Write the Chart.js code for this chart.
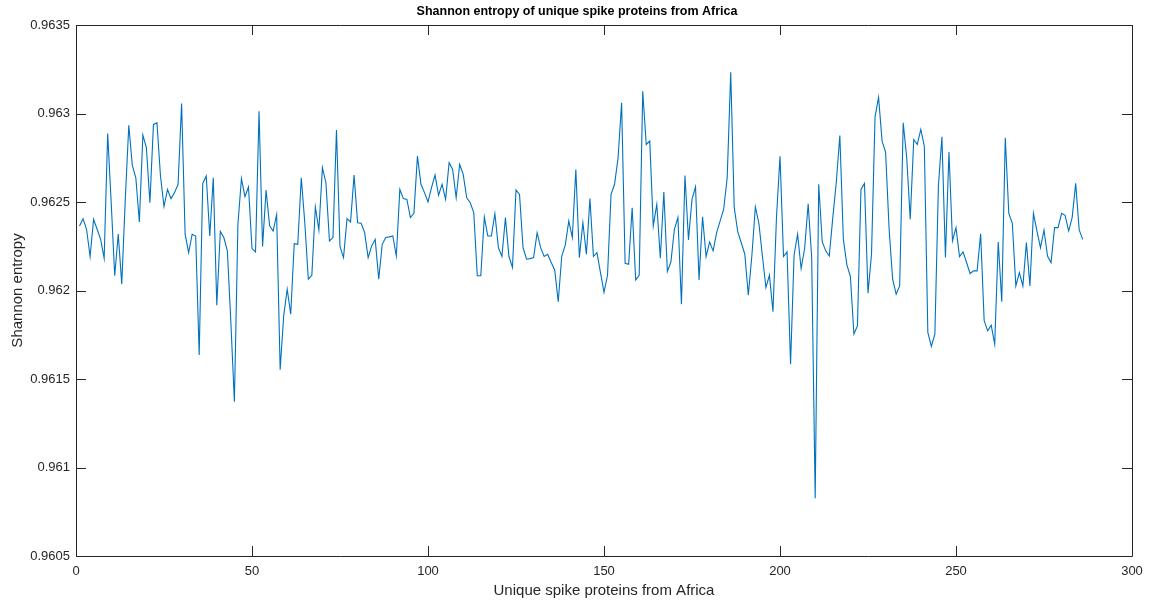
<!DOCTYPE html>
<html>
<head>
<meta charset="utf-8">
<script src="https://cdn.jsdelivr.net/npm/chart.js@4"></script>
<style>
  html, body { margin: 0; padding: 0; background: #fff; }
  #wrap { width: 1153px; height: 607px; }
</style>
</head>
<body>
<div id="wrap"><canvas id="entropyChart" width="1153" height="607"></canvas></div>
<script>
// Shannon entropy per unique spike protein (Africa), proteins numbered from 1
const entropy = [
  0.962365, 0.962406, 0.962346, 0.962192, 0.962402, 0.962346, 0.962289, 0.962182, 0.962887, 0.962496,
  0.962083, 0.962319, 0.962036, 0.962515, 0.962934, 0.962707, 0.962637, 0.962387, 0.962878, 0.962806,
  0.962496, 0.962938, 0.962947, 0.962647, 0.962474, 0.962571, 0.962519, 0.962553, 0.962600, 0.963056,
  0.962318, 0.962214, 0.962318, 0.962308, 0.961635, 0.962605, 0.962647, 0.962308, 0.962637, 0.961917,
  0.962334, 0.962299, 0.962224, 0.961819, 0.961372, 0.962374, 0.962632, 0.962530, 0.962585, 0.962237,
  0.962218, 0.963013, 0.962248, 0.962568, 0.962365, 0.962336, 0.962428, 0.961552, 0.961857, 0.962007,
  0.961866, 0.962265, 0.962261, 0.962637, 0.962383, 0.962064, 0.962086, 0.962472, 0.962342, 0.962694,
  0.962609, 0.962280, 0.962299, 0.962906, 0.962248, 0.962186, 0.962406, 0.962387, 0.962652, 0.962383,
  0.962380, 0.962327, 0.962186, 0.962252, 0.962289, 0.962064, 0.962261, 0.962299, 0.962303, 0.962308,
  0.962195, 0.962571, 0.962519, 0.962515, 0.962412, 0.962436, 0.962759, 0.962600, 0.962553, 0.962500,
  0.962581, 0.962652, 0.962538, 0.962600, 0.962515, 0.962722, 0.962684, 0.962524, 0.962712, 0.962656,
  0.962524, 0.962496, 0.962440, 0.962083, 0.962083, 0.962415, 0.962308, 0.962308, 0.962434, 0.962242,
  0.962192, 0.962412, 0.962192, 0.962130, 0.962568, 0.962543, 0.962242, 0.962177, 0.962180, 0.962186,
  0.962327, 0.962242, 0.962192, 0.962205, 0.962158, 0.962116, 0.961936, 0.962195, 0.962256, 0.962393,
  0.962299, 0.962684, 0.962186, 0.962383, 0.962205, 0.962519, 0.962192, 0.962214, 0.962101, 0.961989,
  0.962086, 0.962543, 0.962600, 0.962750, 0.963060, 0.962154, 0.962148, 0.962468, 0.962060, 0.962086,
  0.963126, 0.962825, 0.962844, 0.962365, 0.962487, 0.962182, 0.962556, 0.962107, 0.962161, 0.962346,
  0.962412, 0.961923, 0.962650, 0.962286, 0.962515, 0.962586, 0.962060, 0.962417, 0.962192, 0.962274,
  0.962224, 0.962327, 0.962393, 0.962459, 0.962637, 0.963233, 0.962468, 0.962331, 0.962270, 0.962205,
  0.961974, 0.962195, 0.962472, 0.962380, 0.962195, 0.962017, 0.962086, 0.961880, 0.962412, 0.962759,
  0.962192, 0.962218, 0.961584, 0.962199, 0.962318, 0.962124, 0.962237, 0.962490, 0.962186, 0.960827,
  0.962600, 0.962274, 0.962224, 0.962195, 0.962412, 0.962613, 0.962876, 0.962289, 0.962145, 0.962079,
  0.961754, 0.961800, 0.962571, 0.962605, 0.961985, 0.962205, 0.962981, 0.963092, 0.962844, 0.962782,
  0.962346, 0.962064, 0.961979, 0.962026, 0.962947, 0.962750, 0.962402, 0.962853, 0.962825, 0.962910,
  0.962816, 0.961763, 0.961684, 0.961754, 0.962590, 0.962868, 0.962186, 0.962782, 0.962280, 0.962355,
  0.962192, 0.962218, 0.962158, 0.962096, 0.962111, 0.962111, 0.962321, 0.961829, 0.961772, 0.961804,
  0.961697, 0.962274, 0.961936, 0.962863, 0.962436, 0.962380, 0.962026, 0.962101, 0.962026, 0.962271,
  0.962026, 0.962436, 0.962336, 0.962242, 0.962342, 0.962195, 0.962158, 0.962355, 0.962355, 0.962436,
  0.962425, 0.962336, 0.962412, 0.962605, 0.962342, 0.962289
];

// axis ticks
const xTicks = [0, 50, 100, 150, 200, 250, 300];
const yTicks = [0.9605, 0.961, 0.9615, 0.962, 0.9625, 0.963, 0.9635];
const yTickLabels = ["0.9605", "0.961", "0.9615", "0.962", "0.9625", "0.963", "0.9635"];

const chartTitle = "Shannon entropy of unique spike proteins from Africa";
const axisColor = "#262626";
const fontFamily = "'Liberation Sans', Arial, Helvetica, sans-serif";

// MATLAB style box: frame on all sides, ticks pointing inward, title above
const boxPlugin = {
  id: "boxAxes",
  afterDraw(chart) {
    const { ctx, chartArea: a, scales } = chart;
    const len = 10;
    ctx.save();
    ctx.strokeStyle = axisColor;
    ctx.lineWidth = 1;
    ctx.beginPath();
    ctx.rect(Math.round(a.left) + 0.5, Math.round(a.top) + 0.5,
             Math.round(a.right - a.left), Math.round(a.bottom - a.top));
    xTicks.forEach(v => {
      const px = Math.round(scales.x.getPixelForValue(v)) + 0.5;
      ctx.moveTo(px, a.bottom); ctx.lineTo(px, a.bottom - len);
      ctx.moveTo(px, a.top); ctx.lineTo(px, a.top + len);
    });
    yTicks.forEach(v => {
      const py = Math.round(scales.y.getPixelForValue(v)) + 0.5;
      ctx.moveTo(a.left, py); ctx.lineTo(a.left + len, py);
      ctx.moveTo(a.right, py); ctx.lineTo(a.right - len, py);
    });
    ctx.stroke();

    ctx.fillStyle = "#000";
    ctx.font = "bold 12.5px " + fontFamily;
    ctx.textAlign = "center";
    ctx.textBaseline = "middle";
    ctx.fillText(chartTitle, 577, 12);
    ctx.restore();
  }
};

const points = entropy.map((v, i) => ({ x: i + 1, y: v }));

new Chart(document.getElementById("entropyChart"), {
  type: "line",
  data: {
    datasets: [{
      data: points,
      borderColor: "#0072BD",
      borderWidth: 1.1,
      pointRadius: 0,
      fill: false,
      tension: 0
    }]
  },
  options: {
    responsive: false,
    animation: false,
    events: [],
    layout: { padding: { left: 0, right: 21, top: 25, bottom: 0 } },
    plugins: {
      legend: { display: false },
      tooltip: { enabled: false },
      title: { display: false }
    },
    scales: {
      x: {
        type: "linear",
        min: 0,
        max: 300,
        afterBuildTicks: s => { s.ticks = xTicks.map(v => ({ value: v })); },
        afterFit: s => { s.height = 51; },
        grid: { display: false, drawTicks: false },
        border: { display: false },
        ticks: { color: axisColor, padding: 8, font: { family: fontFamily, size: 13 } },
        title: {
          display: true,
          text: "Unique spike proteins from Africa",
          color: axisColor,
          font: { family: fontFamily, size: 15 },
          padding: { top: 0, bottom: 7 }
        }
      },
      y: {
        min: 0.9605,
        max: 0.9635,
        afterBuildTicks: s => { s.ticks = yTicks.map(v => ({ value: v })); },
        afterFit: s => { s.width = 76; },
        grid: { display: false, drawTicks: false },
        border: { display: false },
        ticks: {
          color: axisColor,
          padding: 6,
          font: { family: fontFamily, size: 13 },
          callback: (v, i) => yTickLabels[i]
        },
        title: {
          display: true,
          text: "Shannon entropy",
          color: axisColor,
          font: { family: fontFamily, size: 15 },
          padding: { top: 9, bottom: 0 }
        }
      }
    }
  },
  plugins: [boxPlugin]
});
</script>
</body>
</html>
